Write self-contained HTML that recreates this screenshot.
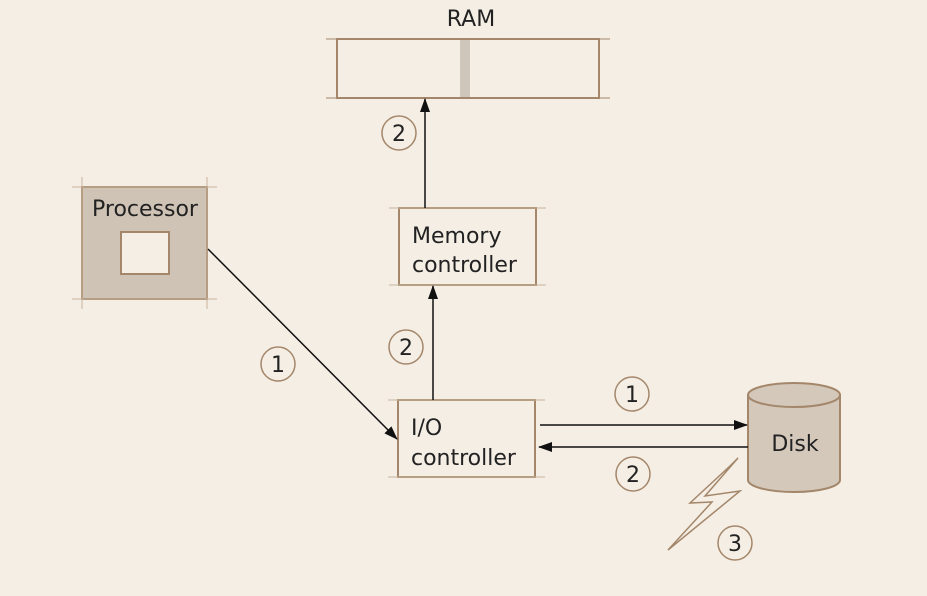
<!DOCTYPE html>
<html><head><meta charset="utf-8"><style>
html,body{margin:0;padding:0;background:#f5eee4;}
svg{display:block}
text{font-family:"DejaVu Sans","Liberation Sans",sans-serif;fill:#222;}
</style></head><body>
<svg width="927" height="596" viewBox="0 0 927 596" xmlns="http://www.w3.org/2000/svg">
<defs>
<marker id="a" markerWidth="14" markerHeight="10" refX="13" refY="5" orient="auto" markerUnits="userSpaceOnUse"><path d="M0,0 L14,5 L0,10 Z" fill="#111"/></marker>
</defs>
<rect width="927" height="596" fill="#f5eee4"/>
<g stroke="#a4876b" stroke-width="2" fill="none">
<rect x="337" y="39" width="262" height="59"/>
<line x1="326" y1="39" x2="610" y2="39" stroke-width="1"/>
<line x1="326" y1="98" x2="610" y2="98" stroke-width="1"/>
<rect x="82" y="187" width="125" height="112" fill="#cfc3b5"/>
<rect x="121" y="232" width="48" height="42" fill="#f5eee4"/>
<rect x="399" y="208" width="137" height="77"/>
<rect x="398" y="400" width="137" height="77"/>
<g stroke-width="1" stroke="#c9b49f">
<line x1="72" y1="187" x2="217" y2="187"/><line x1="72" y1="299" x2="217" y2="299"/>
<line x1="82" y1="177" x2="82" y2="309"/><line x1="207" y1="177" x2="207" y2="309"/>
<line x1="389" y1="208" x2="546" y2="208"/><line x1="389" y1="285" x2="546" y2="285"/>
<line x1="388" y1="400" x2="545" y2="400"/><line x1="388" y1="477" x2="545" y2="477"/>
</g>
<circle cx="399" cy="133" r="17" stroke-width="1.5"/>
<circle cx="406" cy="347" r="17" stroke-width="1.5"/>
<circle cx="278" cy="364" r="17" stroke-width="1.5"/>
<circle cx="632" cy="394" r="17" stroke-width="1.5"/>
<circle cx="633" cy="474" r="17" stroke-width="1.5"/>
<circle cx="735" cy="543" r="17" stroke-width="1.5"/>
<polygon points="738,458 705,496 740,491 668,550 712,502 690,503 730,466" stroke-width="1.5"/>
</g>
<rect x="460" y="40" width="10" height="57" fill="#cfc6bb"/>
<path d="M748,395 L748,480 A46,12 0 0 0 840,480 L840,395 Z" fill="#d3c8ba" stroke="#a4876b" stroke-width="2"/>
<ellipse cx="794" cy="395" rx="46" ry="12" fill="#d3c8ba" stroke="#a4876b" stroke-width="2"/>
<g stroke="#111" stroke-width="1.5" fill="none">
<line x1="425" y1="208" x2="425" y2="99" marker-end="url(#a)"/>
<line x1="433" y1="400" x2="433" y2="286" marker-end="url(#a)"/>
<line x1="208" y1="249" x2="397" y2="439" marker-end="url(#a)"/>
<line x1="540" y1="425" x2="747" y2="425" marker-end="url(#a)"/>
<line x1="748" y1="447" x2="539" y2="447" marker-end="url(#a)"/>
</g>
<g font-size="22">
<text x="471" y="26" text-anchor="middle">RAM</text>
<text x="145" y="216" text-anchor="middle">Processor</text>
<text x="412" y="243">Memory</text>
<text x="412" y="272">controller</text>
<text x="411" y="435">I/O</text>
<text x="411" y="465">controller</text>
<text x="795" y="451" text-anchor="middle">Disk</text>
<text x="399" y="141" text-anchor="middle">2</text>
<text x="406" y="355" text-anchor="middle">2</text>
<text x="278" y="372" text-anchor="middle">1</text>
<text x="632" y="402" text-anchor="middle">1</text>
<text x="633" y="482" text-anchor="middle">2</text>
<text x="735" y="551" text-anchor="middle">3</text>
</g>
</svg>
</body></html>
